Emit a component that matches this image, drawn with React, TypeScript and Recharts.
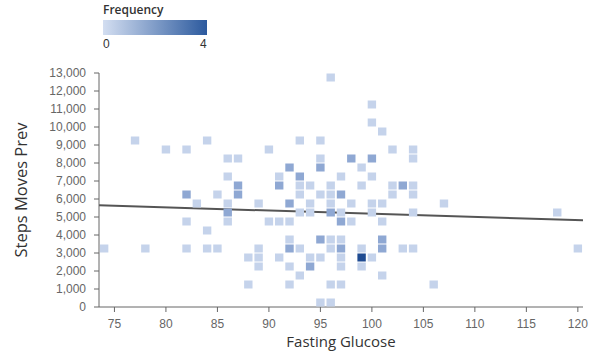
import React from 'react';
import { ScatterChart, Scatter, XAxis, YAxis, ReferenceLine } from 'recharts';

// Binned cells: glucose value, steps bin centre (500-step bins), count
const cellGlucose = [
  96,
  100,
  100,
  101,
  77, 84, 93, 95,
  80, 82, 90, 102, 104,
  86, 87, 95, 98, 100, 104,
  92, 95, 99,
  86, 91, 93, 97, 100,
  87, 91, 93, 94, 96, 99, 102, 103, 104,
  82, 85, 87, 93, 95, 96, 97, 102, 104,
  83, 86, 89, 92, 94, 96, 98, 100, 101, 107,
  86, 93, 94, 96, 97, 100, 104, 118,
  82, 86, 90, 91, 92, 97, 98, 101,
  84,
  92, 95, 96, 97, 101,
  74, 78, 82, 84, 85, 89, 92, 93, 96, 97, 99, 101, 103, 104, 120,
  88, 89, 91, 94, 95, 97, 99, 100,
  89, 92, 94, 97, 99,
  93, 101,
  88, 92, 96, 97, 106,
  95, 96,
];
const cellSteps = [
  12750,
  11250,
  10250,
  9750,
  9250, 9250, 9250, 9250,
  8750, 8750, 8750, 8750, 8750,
  8250, 8250, 8250, 8250, 8250, 8250,
  7750, 7750, 7750,
  7250, 7250, 7250, 7250, 7250,
  6750, 6750, 6750, 6750, 6750, 6750, 6750, 6750, 6750,
  6250, 6250, 6250, 6250, 6250, 6250, 6250, 6250, 6250,
  5750, 5750, 5750, 5750, 5750, 5750, 5750, 5750, 5750, 5750,
  5250, 5250, 5250, 5250, 5250, 5250, 5250, 5250,
  4750, 4750, 4750, 4750, 4750, 4750, 4750, 4750,
  4250,
  3750, 3750, 3750, 3750, 3750,
  3250, 3250, 3250, 3250, 3250, 3250, 3250, 3250, 3250, 3250, 3250, 3250, 3250, 3250, 3250,
  2750, 2750, 2750, 2750, 2750, 2750, 2750, 2750,
  2250, 2250, 2250, 2250, 2250,
  1750, 1750,
  1250, 1250, 1250, 1250, 1250,
  250, 250,
];
const cellCount = [
  1,
  1,
  1,
  1,
  1, 1, 1, 1,
  1, 1, 1, 1, 1,
  1, 1, 1, 2, 2, 1,
  2, 2, 1,
  1, 1, 2, 1, 1,
  2, 2, 1, 1, 1, 1, 1, 2, 1,
  2, 1, 2, 1, 1, 1, 2, 1, 1,
  1, 1, 1, 2, 1, 1, 1, 1, 1, 1,
  2, 1, 1, 2, 1, 1, 1, 1,
  1, 1, 1, 1, 1, 2, 1, 1,
  1,
  1, 2, 1, 1, 2,
  1, 1, 1, 1, 1, 1, 2, 1, 1, 2, 1, 2, 1, 1, 1,
  1, 1, 1, 1, 1, 1, 4, 1,
  1, 1, 2, 1, 1,
  1, 1,
  1, 1, 1, 1, 1,
  1, 1,
];

// Regression line endpoints
const trendGlucose = [73.5, 120.5];
const trendSteps = [5650, 4815];

const xTicks = [75, 80, 85, 90, 95, 100, 105, 110, 115, 120];
const yTicks = [0, 1000, 2000, 3000, 4000, 5000, 6000, 7000, 8000, 9000, 10000, 11000, 12000, 13000];
const legendMin = 0;
const legendMax = 4;

const cells = cellGlucose.map((g, i) => ({ glucose: g, steps: cellSteps[i], count: cellCount[i] }));

const countColor = (c: number) => {
  if (c >= 4) return '#1f4b92';
  if (c === 3) return '#5f80bb';
  if (c === 2) return '#8fa8d3';
  return '#c5d3eb';
};

const CellShape = (props: any) => {
  const { cx, cy, payload } = props;
  if (cx == null || cy == null) return null;
  return <rect x={cx - 4.2} y={cy - 4} width={8.4} height={8} fill={countColor(payload.count)} />;
};

const tickStyle = { fontFamily: 'Liberation Sans, Arial, sans-serif', fontSize: 12, fill: '#666' };

export default function App() {
  return (
    <div style={{ position: 'absolute', left: 0, top: 0, width: 589, height: 355, background: '#fff' }}>
      <div style={{ position: 'absolute', left: 103, top: 1, fontFamily: 'Open Sans, sans-serif', fontSize: 12, fontWeight: 600, color: '#333' }}>
        Frequency
      </div>
      <div
        style={{
          position: 'absolute',
          left: 103,
          top: 20,
          width: 104,
          height: 15,
          background: 'linear-gradient(to right, #d3def1, #2c5a9e)',
        }}
      />
      <div style={{ position: 'absolute', left: 103, top: 37, fontFamily: 'Liberation Sans, Arial, sans-serif', fontSize: 12, color: '#333' }}>
        {legendMin}
      </div>
      <div style={{ position: 'absolute', left: 200, top: 37, fontFamily: 'Liberation Sans, Arial, sans-serif', fontSize: 12, color: '#333' }}>
        {legendMax}
      </div>
      <ScatterChart width={589} height={355} margin={{ top: 73, right: 6, bottom: 1, left: 0 }} style={{ position: 'absolute', left: 0, top: 0 }}>
        <XAxis
          type="number"
          dataKey="glucose"
          domain={[73.5, 120.5]}
          ticks={xTicks}
          interval={0}
          allowDataOverflow
          height={47}
          tickSize={5}
          tickMargin={7}
          tick={tickStyle}
          stroke="#666"
          label={{ value: 'Fasting Glucose', position: 'insideBottom', offset: 7, style: { fontFamily: 'Open Sans, sans-serif', fontSize: 15, fill: '#333' } }}
        />
        <YAxis
          type="number"
          dataKey="steps"
          domain={[0, 13000]}
          ticks={yTicks}
          interval={0}
          allowDataOverflow
          width={99}
          tickSize={5}
          tickMargin={8}
          tick={tickStyle}
          stroke="#666"
          tickFormatter={(v: number) => v.toLocaleString('en-US')}
          label={{ value: 'Steps Moves Prev', angle: -90, position: 'insideLeft', offset: 21, style: { textAnchor: 'middle', fontFamily: 'Open Sans, sans-serif', fontSize: 16.5, fill: '#333' } }}
        />
        <Scatter data={cells} shape={CellShape} isAnimationActive={false} />
        <ReferenceLine
          segment={[
            { x: trendGlucose[0], y: trendSteps[0] },
            { x: trendGlucose[1], y: trendSteps[1] },
          ]}
          stroke="#555"
          strokeWidth={2}
        />
      </ScatterChart>
    </div>
  );
}
